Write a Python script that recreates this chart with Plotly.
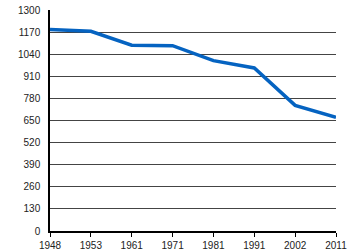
import plotly.graph_objects as go

years = ["1948", "1953", "1961", "1971", "1981", "1991", "2002", "2011"]
values = [1185, 1175, 1093, 1090, 1002, 959, 739, 669]
yticks = [0, 130, 260, 390, 520, 650, 780, 910, 1040, 1170, 1300]

fig = go.Figure(go.Scatter(
    x=years, y=values, mode="lines",
    line=dict(color="#0563c1", width=3.5),
))
fig.update_layout(
    width=350, height=250,
    margin=dict(l=50, r=14, t=10, b=19, autoexpand=False),
    paper_bgcolor="white", plot_bgcolor="white",
    showlegend=False,
    font=dict(family="Liberation Sans, Arial", size=10, color="#222"),
)
fig.update_xaxes(
    type="category", range=[0, 7], automargin=False,
    showgrid=False, showline=True, linecolor="black", linewidth=1.5,
    ticks="outside", ticklen=4, tickcolor="black", tickwidth=1,
    tickfont=dict(size=10),
)
fig.update_yaxes(
    range=[0, 1300], tickvals=yticks, automargin=False,
    showgrid=True, gridcolor="#444", gridwidth=1,
    showline=True, linecolor="black", linewidth=1.5,
    zeroline=False, ticks="", ticklabelstandoff=6,
    tickfont=dict(size=10),
)
fig.write_html("out.html")
